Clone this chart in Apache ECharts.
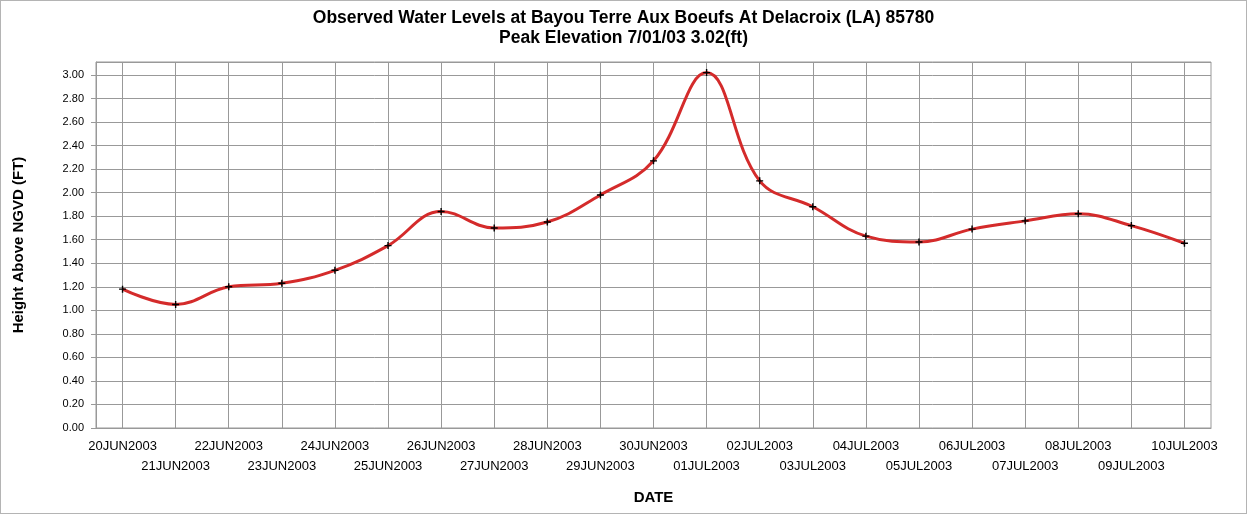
<!DOCTYPE html>
<html>
<head>
<meta charset="utf-8">
<script src="https://cdn.jsdelivr.net/npm/echarts@6/dist/echarts.min.js"></script>
<style>
  html, body { margin: 0; padding: 0; background: #fff; }
  #chart { width: 1247px; height: 514px; box-sizing: border-box; border: 1px solid #b4b4b4; }
</style>
</head>
<body>
<div id="chart"></div>
<script>
// observed water level, one reading per day
const dates = ["20JUN2003", "21JUN2003", "22JUN2003", "23JUN2003", "24JUN2003", "25JUN2003",
  "26JUN2003", "27JUN2003", "28JUN2003", "29JUN2003", "30JUN2003", "01JUL2003", "02JUL2003",
  "03JUL2003", "04JUL2003", "05JUL2003", "06JUL2003", "07JUL2003", "08JUL2003", "09JUL2003", "10JUL2003"];
const levels = [1.18, 1.05, 1.20, 1.23, 1.34, 1.55, 1.84, 1.70, 1.75, 1.98, 2.27, 3.02, 2.10,
  1.88, 1.63, 1.58, 1.69, 1.76, 1.82, 1.72, 1.57];

const chart = echarts.init(document.getElementById("chart"));
const gridColor = "#999";

const option = {
  animation: false,
  title: {
    text: "Observed Water Levels at Bayou Terre Aux Boeufs At Delacroix (LA) 85780\nPeak Elevation 7/01/03 3.02(ft)",
    left: "center",
    top: 2,
    textStyle: {
      fontFamily: "Liberation Sans",
      fontWeight: "bold",
      fontSize: 17.5,
      lineHeight: 20,
      color: "#000"
    }
  },
  grid: {
    left: 95,
    right: 35,
    top: 61,
    bottom: 85,
    show: true,
    borderColor: gridColor,
    borderWidth: 1
  },
  xAxis: {
    type: "category",
    data: dates,
    boundaryGap: true,
    name: "DATE",
    nameLocation: "middle",
    nameGap: 62,
    nameTextStyle: { fontFamily: "Liberation Sans", fontWeight: "bold", fontSize: 15, color: "#000" },
    axisLine: { lineStyle: { color: gridColor } },
    axisTick: { alignWithLabel: true, length: 6, lineStyle: { color: gridColor } },
    axisLabel: {
      interval: 0,
      margin: 8,
      fontFamily: "Liberation Sans",
      fontSize: 13,
      lineHeight: 20,
      color: "#000",
      formatter: (v, i) => (i % 2 ? "\n" + v : v)
    },
    splitLine: { show: true, alignWithLabel: true, lineStyle: { color: gridColor } }
  },
  yAxis: {
    type: "value",
    min: 0,
    max: 3.11,
    interval: 0.2,
    name: "Height Above NGVD (FT)",
    nameLocation: "middle",
    nameGap: 70,
    nameTextStyle: { fontFamily: "Liberation Sans", fontWeight: "bold", fontSize: 15, color: "#000" },
    axisLine: { show: true, lineStyle: { color: gridColor } },
    axisTick: { show: true, length: 5, lineStyle: { color: gridColor } },
    axisLabel: {
      showMaxLabel: false,
      margin: 12,
      fontFamily: "Liberation Sans",
      fontSize: 11,
      color: "#000",
      formatter: v => v.toFixed(2)
    },
    splitLine: { show: true, lineStyle: { color: gridColor } }
  },
  series: [{
    type: "line",
    data: levels,
    smooth: 0.4,
    symbol: "path://M2,0H3V2H5V3H3V5H2V3H0V2H2Z",
    symbolSize: 7,
    itemStyle: { color: "#000" },
    lineStyle: { color: "#d42b2b", width: 3 },
    z: 3
  }]
};
chart.setOption(option);
</script>
</body>
</html>
